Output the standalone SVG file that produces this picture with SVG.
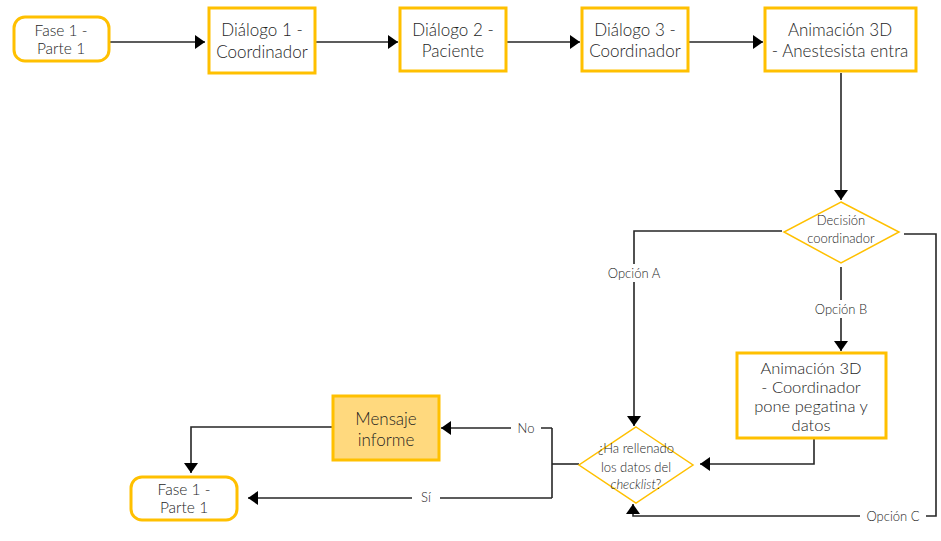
<svg xmlns="http://www.w3.org/2000/svg" width="941" height="541" viewBox="0 0 941 541">
  <style>
    .box { fill: #ffffff; stroke: #FFC000; stroke-width: 3; }
    .msg { fill: #FFD97E; stroke: #FFC000; stroke-width: 3; }
    .dia { fill: #ffffff; stroke: #FFC000; stroke-width: 1.5; }
    .t { font-family: Lato, "Open Sans", "Liberation Sans", sans-serif; font-weight: 300; fill: #1e1e1e; text-anchor: middle; }
    .big { font-size: 17px; }
    .stack { font-size: 16.5px; }
    .mid { font-size: 15.5px; }
    .sm { font-size: 13px; }
    .lbl { font-size: 13px; }
    .wire { fill: none; stroke: #262626; stroke-width: 1.6; }
    .gap { fill: #ffffff; }
  </style>
  <defs>
    <marker id="arrow" markerUnits="userSpaceOnUse" markerWidth="11" markerHeight="15" refX="10" refY="7" orient="auto">
      <path d="M0,0 L10,7 L0,14 Z" fill="#000000"/>
    </marker>
  </defs>
  <rect width="941" height="541" fill="#ffffff"/>

  <!-- connectors -->
  <g id="connectors">
    <path class="wire" d="M109,42 H205" marker-end="url(#arrow)"/>
    <path class="wire" d="M316,42 H398" marker-end="url(#arrow)"/>
    <path class="wire" d="M507,42 H580" marker-end="url(#arrow)"/>
    <path class="wire" d="M689,42 H763" marker-end="url(#arrow)"/>
    <path class="wire" d="M841,73 V200" marker-end="url(#arrow)"/>
    <path class="wire" d="M782,231 H634 V426" marker-end="url(#arrow)"/>
    <path class="wire" d="M841,267 V351" marker-end="url(#arrow)"/>
    <path class="wire" d="M904,234 H936 V516 H633 V504" marker-end="url(#arrow)"/>
    <path class="wire" d="M814,439 V464 H700" marker-end="url(#arrow)"/>
    <path class="wire" d="M579,464 H552"/>
    <path class="wire" d="M552,428 V498"/>
    <path class="wire" d="M552,428 H441" marker-end="url(#arrow)"/>
    <path class="wire" d="M552,498 H248" marker-end="url(#arrow)"/>
    <path class="wire" d="M332,427 H191 V473" marker-end="url(#arrow)"/>

    <!-- labels on the wires -->
    <rect class="gap" x="602" y="264" width="64" height="18"/>
    <text class="t lbl" x="634" y="278">Opción A</text>
    <rect class="gap" x="809" y="300" width="64" height="18"/>
    <text class="t lbl" x="841" y="314">Opción B</text>
    <rect class="gap" x="860" y="507" width="66" height="18"/>
    <text class="t lbl" x="893" y="521">Opción C</text>
    <rect class="gap" x="511" y="419" width="30" height="18"/>
    <text class="t lbl" x="526" y="433">No</text>
    <rect class="gap" x="412" y="489" width="28" height="18"/>
    <text class="t lbl" x="426" y="502">Sí</text>
  </g>

  <g id="fase1-inicio">
    <rect class="box" x="14" y="17" width="95" height="44" rx="11"/>
    <text class="t mid" x="61" y="36">Fase 1 -</text>
    <text class="t mid" x="61" y="54">Parte 1</text>
  </g>

  <g id="dialogo1">
    <rect class="box" x="209" y="8" width="106" height="65"/>
    <text class="t big" x="262" y="36">Diálogo 1 -</text>
    <text class="t big" x="262" y="58">Coordinador</text>
  </g>

  <g id="dialogo2">
    <rect class="box" x="400" y="8" width="106" height="63"/>
    <text class="t big" x="453" y="36">Diálogo 2 -</text>
    <text class="t big" x="453" y="57">Paciente</text>
  </g>

  <g id="dialogo3">
    <rect class="box" x="582" y="8" width="106" height="63"/>
    <text class="t big" x="635" y="36">Diálogo 3 -</text>
    <text class="t big" x="635" y="57">Coordinador</text>
  </g>

  <g id="anestesista">
    <rect class="box" x="765" y="8" width="151" height="63"/>
    <text class="t big" x="840" y="36">Animación 3D</text>
    <text class="t big" x="840" y="57">- Anestesista entra</text>
  </g>

  <g id="decision">
    <polygon class="dia" points="841,202 899,232 841,263 784,232"/>
    <text class="t sm" x="841" y="225">Decisión</text>
    <text class="t sm" x="841" y="243">coordinador</text>
  </g>

  <g id="pegatina">
    <rect class="box" x="737" y="353" width="149" height="85"/>
    <text class="t stack" x="811" y="374">Animación 3D</text>
    <text class="t stack" x="811" y="393">- Coordinador</text>
    <text class="t stack" x="811" y="412">pone pegatina y</text>
    <text class="t stack" x="811" y="431">datos</text>
  </g>

  <g id="checklist">
    <polygon class="dia" points="636,427 693,465 636,503 579,465"/>
    <text class="t sm" x="636" y="453">¿Ha rellenado</text>
    <text class="t sm" x="636" y="472">los datos del</text>
    <text class="t sm" x="636" y="489"><tspan font-style="italic">checklist</tspan>?</text>
  </g>

  <g id="mensaje">
    <rect class="msg" x="333" y="396" width="106" height="64"/>
    <text class="t big" x="386" y="425">Mensaje</text>
    <text class="t big" x="386" y="446">informe</text>
  </g>

  <g id="fase1-fin">
    <rect class="box" x="131" y="477" width="106" height="43" rx="11"/>
    <text class="t mid" x="184" y="495">Fase 1 -</text>
    <text class="t mid" x="184" y="513">Parte 1</text>
  </g>
</svg>
